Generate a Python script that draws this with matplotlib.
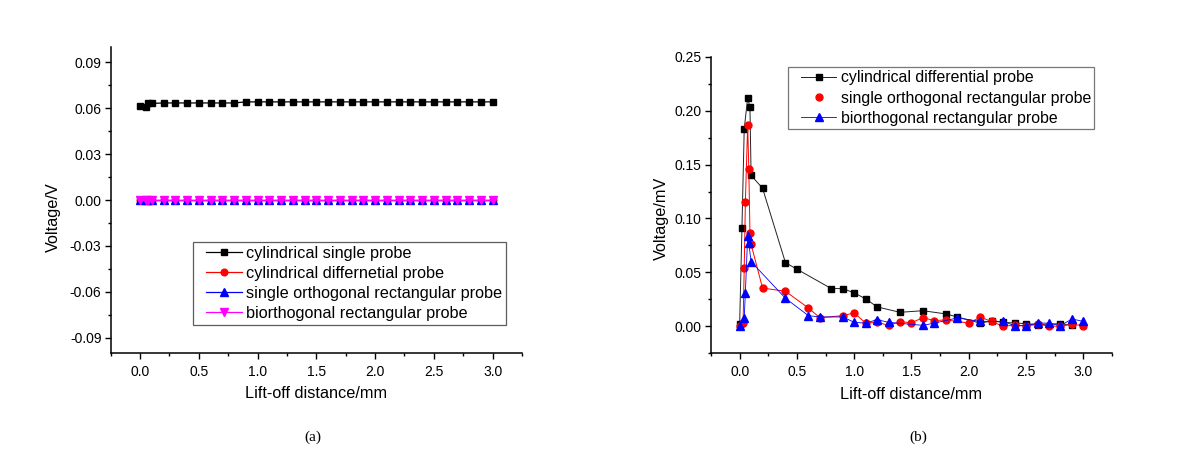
import matplotlib
matplotlib.use("Agg")
import matplotlib.pyplot as plt
from matplotlib.lines import Line2D
from matplotlib.legend_handler import HandlerLine2D
from matplotlib.ticker import MultipleLocator, FormatStrFormatter

plt.rcParams['font.family'] = ['Liberation Sans', 'DejaVu Sans']
plt.rcParams['axes.unicode_minus'] = False

# ---------------- data: panel (a) ----------------
xa = [0.0, 0.05, 0.07, 0.1, 0.2, 0.3, 0.4, 0.5, 0.6, 0.7, 0.8, 0.9, 1.0, 1.1, 1.2,
      1.3, 1.4, 1.5, 1.6, 1.7, 1.8, 1.9, 2.0, 2.1, 2.2, 2.3, 2.4, 2.5, 2.6, 2.7,
      2.8, 2.9, 3.0]
ya_cyl_single = [0.0615, 0.0605, 0.063, 0.063, 0.0633, 0.0633, 0.0633, 0.0633, 0.0633,
                 0.0633, 0.0633, 0.064, 0.064, 0.064, 0.064, 0.064, 0.064, 0.064, 0.064,
                 0.064, 0.064, 0.064, 0.064, 0.064, 0.064, 0.064, 0.064, 0.064, 0.064,
                 0.064, 0.064, 0.064, 0.064]
ya_cyl_diff = [0.0, 0.0, 0.0, 0.0, 0.0, 0.0, 0.0, 0.0, 0.0, 0.0, 0.0, 0.0, 0.0, 0.0, 0.0,
               0.0, 0.0, 0.0, 0.0, 0.0, 0.0, 0.0, 0.0, 0.0, 0.0, 0.0, 0.0, 0.0, 0.0, 0.0,
               0.0, 0.0, 0.0]
ya_single_rect = [0.0, 0.0, 0.0, 0.0, 0.0, 0.0, 0.0, 0.0, 0.0, 0.0, 0.0, 0.0, 0.0, 0.0, 0.0,
                  0.0, 0.0, 0.0, 0.0, 0.0, 0.0, 0.0, 0.0, 0.0, 0.0, 0.0, 0.0, 0.0, 0.0, 0.0,
                  0.0, 0.0, 0.0]
ya_biorth = [0.0, 0.0, 0.0, 0.0, 0.0, 0.0, 0.0, 0.0, 0.0, 0.0, 0.0, 0.0, 0.0, 0.0, 0.0,
             0.0, 0.0, 0.0, 0.0, 0.0, 0.0, 0.0, 0.0, 0.0, 0.0, 0.0, 0.0, 0.0, 0.0, 0.0,
             0.0, 0.0, 0.0]
labels_a = ["cylindrical single probe", "cylindrical differnetial probe",
            "single orthogonal rectangular probe", "biorthogonal rectangular probe"]

# ---------------- data: panel (b) ----------------
xb_cyl = [0.0, 0.02, 0.04, 0.07, 0.09, 0.1, 0.2, 0.4, 0.5, 0.8, 0.9, 1.0, 1.1, 1.2,
          1.4, 1.6, 1.8, 1.9, 2.1, 2.2, 2.3, 2.4, 2.5, 2.6, 2.8, 2.9]
yb_cyl = [0.002, 0.091, 0.183, 0.212, 0.203, 0.140, 0.128, 0.059, 0.053, 0.035, 0.035,
          0.031, 0.0255, 0.018, 0.013, 0.0145, 0.0115, 0.0087, 0.003, 0.005, 0.0037,
          0.0031, 0.0025, 0.0016, 0.0025, 0.0009]
xb_sor = [0.0, 0.03, 0.04, 0.05, 0.07, 0.08, 0.09, 0.1, 0.2, 0.4, 0.6, 0.7, 0.9, 1.0,
          1.1, 1.2, 1.3, 1.4, 1.5, 1.6, 1.7, 1.8, 2.0, 2.1, 2.2, 2.3, 2.4, 2.5, 2.6,
          2.7, 2.8, 2.9, 3.0]
yb_sor = [0.0, 0.003, 0.054, 0.115, 0.187, 0.146, 0.087, 0.076, 0.0355, 0.0325, 0.017,
          0.008, 0.0099, 0.0125, 0.003, 0.0037, 0.001, 0.0043, 0.0034, 0.008, 0.0053,
          0.006, 0.003, 0.0085, 0.0045, 0.0, 0.0012, 0.0003, 0.0018, 0.0003, 0.0,
          0.002, 0.0006]
xb_bor = [0.0, 0.04, 0.05, 0.07, 0.08, 0.1, 0.4, 0.6, 0.7, 0.9, 1.0, 1.1, 1.2, 1.3,
          1.6, 1.7, 1.9, 2.1, 2.3, 2.4, 2.5, 2.6, 2.7, 2.8, 2.9, 3.0]
yb_bor = [0.0006, 0.008, 0.031, 0.084, 0.077, 0.060, 0.026, 0.0099, 0.0087, 0.0087,
          0.0037, 0.003, 0.0062, 0.0037, 0.0009, 0.003, 0.0078, 0.0046, 0.0046, 0.0006,
          0.0006, 0.003, 0.003, 0.0006, 0.0068, 0.0046]
labels_b = ["cylindrical differential probe", "single orthogonal rectangular probe",
            "biorthogonal rectangular probe"]

W, H = 1193, 461
fig = plt.figure(figsize=(W / 100, H / 100), dpi=100)
fig.patch.set_facecolor('white')


def px_axes(l, r, t, b):
    return [l / W, 1 - b / H, (r - l) / W, (b - t) / H]


def style_axes(ax):
    for s in ['top', 'right']:
        ax.spines[s].set_visible(False)
    for s in ['left', 'bottom']:
        ax.spines[s].set_linewidth(1.1)
    ax.tick_params(which='major', direction='out', length=4.2, width=1.0,
                   labelsize=10, pad=2.5)
    ax.tick_params(which='minor', direction='out', length=2.3, width=1.0)
    ax.tick_params(axis='x', which='major', pad=4)


# ---------------- panel (a) ----------------
ax1 = fig.add_axes(px_axes(110.7, 522, 46.7, 353.3))
style_axes(ax1)
l1, = ax1.plot(xa, ya_cyl_single, color='black', lw=0.9, marker='s', ms=4.6,
               mec='black', mfc='black', label=labels_a[0])
l2, = ax1.plot(xa, ya_cyl_diff, color='red', lw=0.9, marker='o', ms=4.8,
               mec='red', mfc='red', label=labels_a[1])
l3, = ax1.plot(xa, ya_single_rect, color='blue', lw=0.9, marker='^', ms=5.2,
               mec='blue', mfc='blue', label=labels_a[2])
l4, = ax1.plot(xa, ya_biorth, color='magenta', lw=0.9, marker='v', ms=5.2,
               mec='magenta', mfc='magenta', label=labels_a[3])
ax1.set_xlim(-0.25, 3.25)
ax1.set_ylim(-0.10, 0.10)
ax1.xaxis.set_major_locator(MultipleLocator(0.5))
ax1.xaxis.set_minor_locator(MultipleLocator(0.25))
ax1.yaxis.set_minor_locator(MultipleLocator(0.015))
ax1.xaxis.set_major_formatter(FormatStrFormatter('%.1f'))
ax1.yaxis.set_major_formatter(FormatStrFormatter('%.2f'))
ax1.set_yticks([-0.09, -0.06, -0.03, 0.0, 0.03, 0.06, 0.09])
ax1.set_xlabel("Lift-off distance/mm", fontsize=11.7)
ax1.set_ylabel("Voltage/V", fontsize=11.7)
ax1.xaxis.set_label_coords(0.5, -0.108)
ax1.yaxis.set_label_coords(-0.121, 0.4455)
leg1 = ax1.legend(handles=[l1, l2, l3, l4], loc='upper left',
                  bbox_to_anchor=(193.3 / W, 1 - 241.7 / H), bbox_transform=fig.transFigure,
                  borderaxespad=0, fontsize=11.7, frameon=True, fancybox=False,
                  edgecolor='#333333', handlelength=2.72, handletextpad=0.27,
                  labelspacing=0.3, borderpad=0.26,
                  handler_map={Line2D: HandlerLine2D(xpad=0.52)})
leg1.get_frame().set_linewidth(0.9)

# ---------------- panel (b) ----------------
ax2 = fig.add_axes(px_axes(711, 1112, 56.7, 353.3))
style_axes(ax2)
m1, = ax2.plot(xb_cyl, yb_cyl, color='#222222', lw=0.7, marker='s', ms=4.4,
               mec='black', mfc='black', label=labels_b[0])
m2, = ax2.plot(xb_sor, yb_sor, color='red', lw=0.7, marker='o', ms=5.0,
               mec='red', mfc='red', label=labels_b[1])
m3, = ax2.plot(xb_bor, yb_bor, color='blue', lw=0.6, marker='^', ms=5.2,
               mec='blue', mfc='blue', label=labels_b[2])
ax2.set_xlim(-0.25, 3.25)
ax2.set_ylim(-0.025, 0.25)
ax2.xaxis.set_major_locator(MultipleLocator(0.5))
ax2.xaxis.set_minor_locator(MultipleLocator(0.025 * 10))
ax2.yaxis.set_major_locator(MultipleLocator(0.05))
ax2.yaxis.set_minor_locator(MultipleLocator(0.025))
ax2.xaxis.set_major_formatter(FormatStrFormatter('%.1f'))
ax2.yaxis.set_major_formatter(FormatStrFormatter('%.2f'))
ax2.set_xlabel("Lift-off distance/mm", fontsize=11.7)
ax2.set_ylabel("Voltage/mV", fontsize=11.7)
ax2.xaxis.set_label_coords(0.5, -0.112)
ax2.yaxis.set_label_coords(-0.105, 0.455)
h_red = Line2D([], [], color='red', lw=0, marker='o', ms=5.0, mec='red', mfc='red')
leg2 = ax2.legend(handles=[m1, h_red, m3], labels=labels_b, loc='upper left',
                  bbox_to_anchor=(788 / W, 1 - 67.3 / H), bbox_transform=fig.transFigure,
                  borderaxespad=0, fontsize=11.4, frameon=True, fancybox=False,
                  edgecolor='#555555', handlelength=2.84, handletextpad=0.3,
                  labelspacing=0.32, borderpad=0.2,
                  handler_map={Line2D: HandlerLine2D(xpad=0.62)})
leg2.get_frame().set_linewidth(0.9)

# ---------------- captions ----------------
fig.text(313 / W, 1 - 437 / H, "(a)", ha='center', va='center', fontsize=11,
         family=['Liberation Serif', 'DejaVu Serif'])
fig.text(918 / W, 1 - 437 / H, "(b)", ha='center', va='center', fontsize=11,
         family=['Liberation Serif', 'DejaVu Serif'])

fig.savefig("out.png", dpi=100, facecolor='white')
